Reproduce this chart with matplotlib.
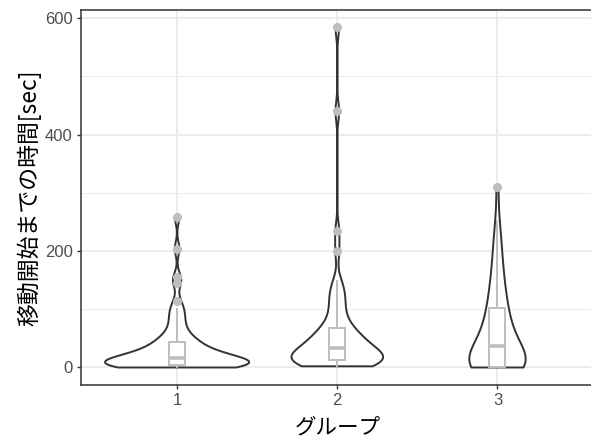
import numpy as np
import matplotlib
matplotlib.use("Agg")
import matplotlib.pyplot as plt

groups = ["1", "2", "3"]
group1 = [0, 0, 1, 1, 1, 2, 2, 2, 3, 3, 3, 4, 4, 4, 4,
          5, 5, 6, 7, 8, 9, 9, 10, 11, 12, 13, 14, 15, 16, 17,
          17, 18, 19, 21, 22, 24, 25, 27, 29, 31, 33, 35, 38, 41, 44,
          45, 48, 52, 57, 63, 70, 78, 86, 95, 101,
          114, 145, 155, 204, 259]
group2 = [2, 3, 4, 5, 6, 6, 7, 8, 8, 9, 10, 10, 11,
          12,
          13, 14, 16, 17, 19, 21, 22, 24, 26, 28, 30, 32,
          33,
          35, 37, 39, 41, 44, 47, 50, 53, 56, 59, 62, 65,
          68,
          75, 83, 92, 101, 110, 119, 128, 137, 148,
          200, 234, 440, 585]
group3 = [0, 0, 0, 0, 0, 0, 0, 0, 0, 0, 0, 0, 0, 0, 0,
          1, 2, 4, 6, 8, 10, 13, 16, 19, 22, 25, 28, 31, 34, 36,
          38,
          41, 44, 48, 52, 56, 60, 64, 68, 73, 78, 83, 88, 94, 100,
          106,
          112, 119, 126, 134, 143, 152, 162, 173, 185, 198, 213, 230, 252,
          310]
data = [np.array(group1, float), np.array(group2, float), np.array(group3, float)]

xlabel = "グループ"
ylabel = "移動開始までの時間[sec]"
yticks = [0, 200, 400, 600]

# ---- helpers ----
def bw_nrd0(x):
    sd = np.std(x, ddof=1)
    iqr = np.subtract(*np.percentile(x, [75, 25]))
    lo = min(sd, iqr / 1.34)
    if lo == 0:
        lo = sd if sd > 0 else 1.0
    return 0.9 * lo * len(x) ** (-0.2)

def kde(x, grid):
    bw = bw_nrd0(x)
    z = (grid[:, None] - x[None, :]) / bw
    return np.exp(-0.5 * z ** 2).sum(axis=1) / (len(x) * bw * np.sqrt(2 * np.pi))

W, H = 591, 441
fig = plt.figure(figsize=(W / 100, H / 100), dpi=100)
ax = fig.add_axes([81 / W, 1 - 384.5 / H, (593.6 - 81) / W, (384.5 - 10) / H])

dark = "#333333"
boxgrey = "#BEBEBE"
gridc = "#EBEBEB"

# densities
grids, dens = [], []
for d in data:
    g = np.linspace(d.min(), d.max(), 512)
    grids.append(g)
    dens.append(kde(d, g))
gmax = max(v.max() for v in dens)

for i, (g, v) in enumerate(zip(grids, dens)):
    pos = i + 1
    hw = 0.45 * v / gmax
    xs = np.concatenate([pos - hw, (pos + hw)[::-1]])
    ys = np.concatenate([g, g[::-1]])
    ax.fill(xs, ys, facecolor="white", edgecolor=dark, linewidth=1.4, zorder=3)

ax.boxplot(data, positions=[1, 2, 3], widths=0.1, whis=1.5, patch_artist=True,
           manage_ticks=False, zorder=4,
           boxprops=dict(facecolor="white", edgecolor=boxgrey, linewidth=1.4),
           medianprops=dict(color=boxgrey, linewidth=2.6),
           whiskerprops=dict(color=boxgrey, linewidth=1.4),
           capprops=dict(linewidth=0),
           flierprops=dict(marker="o", markerfacecolor=boxgrey, markeredgecolor=boxgrey,
                           markersize=5.5, linestyle="none"))

allv = np.concatenate(data)
rng = allv.max() - allv.min()
ax.set_ylim(allv.min() - 0.05 * rng, allv.max() + 0.05 * rng)
ax.set_xlim(0.4, 3.6)

ax.set_yticks(yticks)
ax.set_yticks([100, 300, 500], minor=True)
ax.set_xticks([1, 2, 3])
ax.set_xticklabels(groups)
ax.grid(True, which="major", color=gridc, linewidth=1.3, zorder=0)
ax.grid(True, which="minor", axis="y", color=gridc, linewidth=0.7, zorder=0)
ax.set_axisbelow(True)
ax.tick_params(which="minor", length=0)
ax.tick_params(which="major", length=3, width=1.0, color=dark, labelcolor="#4D4D4D",
               labelsize=12, pad=3)
for lab in ax.get_xticklabels() + ax.get_yticklabels():
    lab.set_fontfamily(["Liberation Sans", "DejaVu Sans"])
for s in ax.spines.values():
    s.set_color(dark)
    s.set_linewidth(1.1)
ax.spines["right"].set_visible(False)

cjk = ["Noto Sans CJK JP", "DejaVu Sans"]
ax.set_xlabel(xlabel, fontsize=15.5, family=cjk, color="black", labelpad=6)
ax.set_ylabel(ylabel, fontsize=16.5, family=cjk, color="black", labelpad=2.5)

fig.savefig("out.png", dpi=100)
